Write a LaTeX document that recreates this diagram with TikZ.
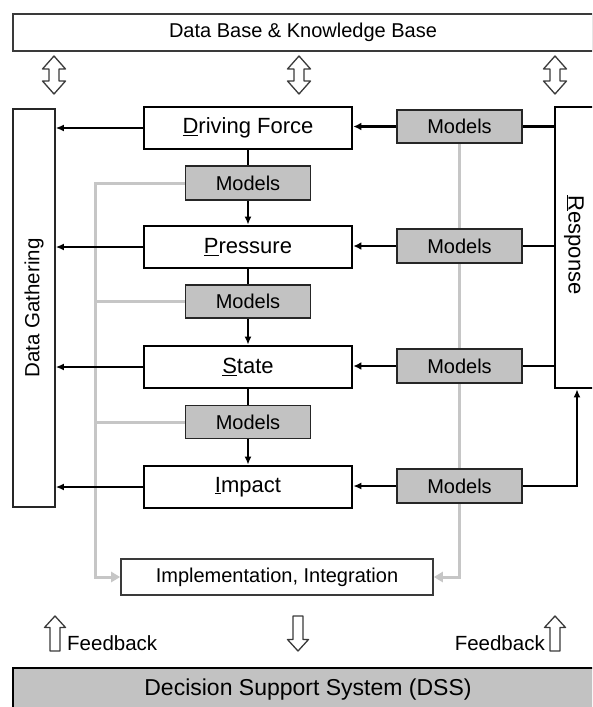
\documentclass[tikz,border=0pt]{standalone}
\usepackage{fontspec}
\setmainfont{Liberation Sans}
\usetikzlibrary{arrows.meta}
\definecolor{boxgray}{HTML}{C2C2C2}
\definecolor{linegray}{HTML}{C6C6C6}
\definecolor{edgegray}{HTML}{3A3A3A}
\pgfdeclarelayer{bg}
\pgfsetlayers{bg,main}
\tikzset{
  mainbox/.style={draw=black, line width=2.8pt, fill=white, minimum width=208pt, minimum height=42pt, inner sep=0pt, font=\fontsize{22}{26}\selectfont},
  modelbox/.style={draw=black!85, line width=1.8pt, fill=boxgray, minimum width=125pt, minimum height=34pt, inner sep=0pt, font=\fontsize{20}{24}\selectfont},
  plainbox/.style={draw=edgegray, line width=1.6pt, fill=white, inner sep=0pt, font=\fontsize{20}{24}\selectfont},
  lbl/.style={inner sep=0pt, font=\fontsize{20.5}{24}\selectfont},
  thinarr/.style={-{Latex[length=8pt,width=7pt]}, line width=1.4pt},
  thickarr/.style={-{Latex[length=8pt,width=8pt]}, line width=2.6pt},
  thickline/.style={line width=2.6pt},
  midline/.style={line width=2.2pt},
  grayline/.style={draw=linegray, line width=3pt},
  grayarr/.style={grayline, -{Triangle[length=9pt,width=10pt]}},
  hollow/.style={draw=edgegray, line width=1.3pt, fill=white, line join=round},
  dblarrow/.pic={\path[hollow] (0,-19) -- (11.5,-6) -- (5,-6) -- (5,6) -- (11.5,6) -- (0,19) -- (-11.5,6) -- (-5,6) -- (-5,-6) -- (-11.5,-6) -- cycle;},
  uparrow/.pic={\path[hollow] (0,-17.5) -- (10.5,-6) -- (5,-6) -- (5,17.5) -- (-5,17.5) -- (-5,-6) -- (-10.5,-6) -- cycle;},
  downarrow/.pic={\path[hollow] (0,17.5) -- (10.5,6) -- (5,6) -- (5,-17.5) -- (-5,-17.5) -- (-5,6) -- (-10.5,6) -- cycle;}
}
\begin{document}
\begin{tikzpicture}[x=1pt,y=-1pt]
\path[use as bounding box] (0,0) rectangle (592,707);
\clip (0,0) rectangle (592,707);

% top data base
\node[plainbox, minimum width=580pt, minimum height=37pt] (db) at (303,32.5) {Data Base \& Knowledge Base};
\pic at (54,75) {dblarrow};
\pic at (299,75) {dblarrow};
\pic at (555,75) {dblarrow};

% data gathering
\node[plainbox, draw=black!85, line width=1.8pt, minimum width=42pt, minimum height=398pt] (dg) at (34,308) {};
\node[lbl, rotate=90] (dgtext) at (34,308) {Data Gathering};

% response
\node[mainbox, minimum width=40pt, minimum height=281pt] (resp) at (575,247.5) {};
\node[inner sep=0pt, rotate=-90, font=\fontsize{22}{26}\selectfont] (resptext) at (574,245) {\underline{R}esponse};

% main column
\node[mainbox] (df) at (248,128) {\underline{D}riving Force};
\node[mainbox] (pr) at (248,247) {\underline{P}ressure};
\node[mainbox] (st) at (248,367) {\underline{S}tate};
\node[mainbox] (im) at (248,487) {\underline{I}mpact};

% middle models
\node[modelbox] (m1) at (248,183) {Models};
\node[modelbox, minimum height=33pt] (m2) at (248,301.5) {Models};
\node[modelbox, minimum height=33pt] (m3) at (248,422) {Models};

% right models
\node[modelbox, minimum height=33pt] (r1) at (459.5,126.5) {Models};
\node[modelbox] (r2) at (459.5,246) {Models};
\node[modelbox] (r3) at (459.5,366) {Models};
\node[modelbox] (r4) at (459.5,486) {Models};

% implementation
\node[plainbox, minimum width=312pt, minimum height=36pt] (impl) at (277,577) {Implementation, Integration};

% bottom
\pic at (55,633.5) {uparrow};
\pic at (298,633.5) {downarrow};
\pic at (555,633.5) {uparrow};
\node[lbl, anchor=west] (fb1) at (67,643) {Feedback};
\node[lbl, anchor=east] (fb2) at (545,643) {Feedback};
\node[draw=black, line width=2.8pt, fill=boxgray, minimum width=590pt, minimum height=44pt, inner sep=0pt, font=\fontsize{23}{27}\selectfont] (dss) at (308,690) {Decision Support System (DSS)};

% gray feedback lines
\coordinate (gL) at (95,577);
\begin{pgfonlayer}{bg}
\draw[grayarr] (m1.west) -| (gL) -- (impl.west);
\draw[grayline] (m2.west) -- (m2.west -| gL);
\draw[grayline] (m3.west) -- (m3.west -| gL);
\draw[grayarr] (r1.south) |- (impl.east);
\end{pgfonlayer}

% to data gathering
\foreach \n in {df,pr,st,im}{
  \draw[thinarr] (\n.west) -- (\n.west -| dg.east);
}

% vertical chain
\draw[midline] (df.south) -- (m1.north);
\draw[midline, -{Latex[length=8pt,width=7pt]}] (m1.south) -- (pr.north);
\draw[midline] (pr.south) -- (m2.north);
\draw[midline, -{Latex[length=8pt,width=7pt]}] (m2.south) -- (st.north);
\draw[midline] (st.south) -- (m3.north);
\draw[midline, -{Latex[length=8pt,width=7pt]}] (m3.south) -- (im.north);

% right models
\draw[thickarr] (r1.west) -- (r1.west -| df.east);
\draw[thickarr] (r2.west) -- (r2.west -| pr.east);
\draw[thickarr] (r3.west) -- (r3.west -| st.east);
\draw[thinarr] (r4.west) -- (r4.west -| im.east);
\draw[thickline] (r1.east) -- (r1.east -| resp.west);
\draw[thickline] (r2.east) -- (r2.east -| resp.west);
\draw[thickline] (r3.east) -- (r3.east -| resp.west);
\draw[thinarr] (r4.east) -| ([xshift=2pt]resp.south);
\end{tikzpicture}
\end{document}
